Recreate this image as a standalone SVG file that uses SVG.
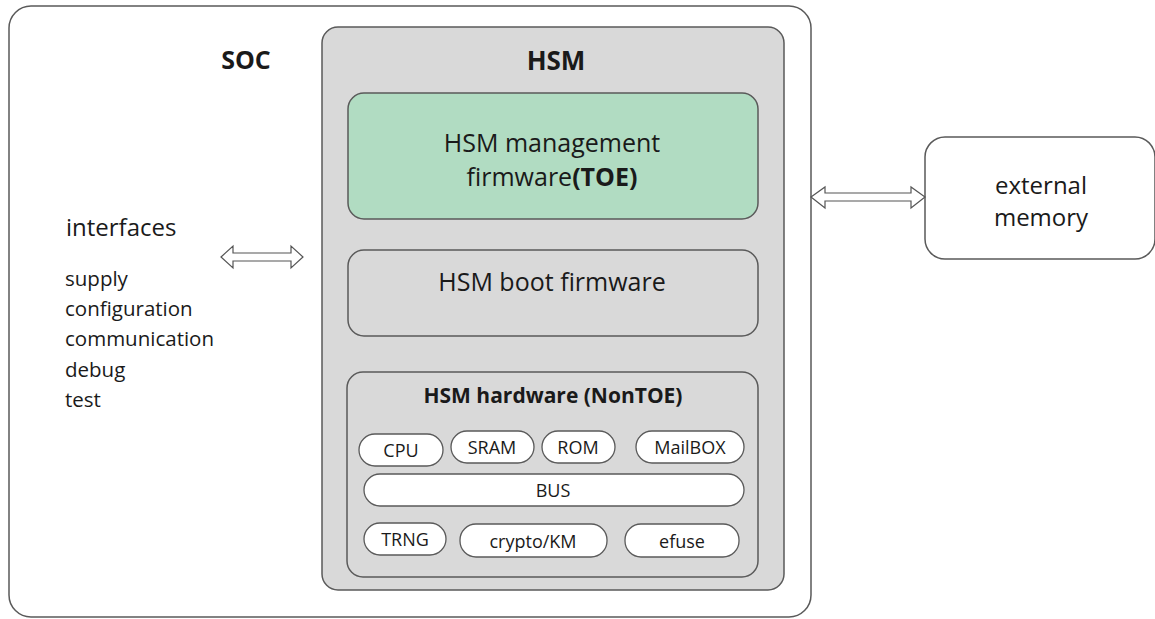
<svg xmlns="http://www.w3.org/2000/svg" width="1155" height="619" viewBox="0 0 1155 619">
<style>
.box{stroke:#5a5a5a;stroke-width:1.5}
.pill{fill:#fff;stroke:#5a5a5a;stroke-width:1.3}
text{font-family:"Open Sans","Noto Sans","Liberation Sans",sans-serif;fill:#1a1a1a}
.b{font-weight:bold}
.p{font-size:18px;text-anchor:middle}
.arrow{fill:#fff;stroke:#555;stroke-width:1.2}
</style>
<rect width="1155" height="619" fill="#fff"/>
<g id="soc">
<rect class="box" x="9" y="6" width="802" height="611" rx="22" fill="#fff"/>
<text class="b" x="246" y="69" font-size="25" text-anchor="middle">SOC</text>
</g>
<g id="interfaces">
<text x="66" y="236" font-size="24">interfaces</text>
<text x="65" y="286" font-size="20.5">supply</text>
<text x="65" y="316" font-size="20.5">configuration</text>
<text x="65" y="346" font-size="20.5">communication</text>
<text x="65" y="377" font-size="20.5">debug</text>
<text x="65" y="407" font-size="20.5">test</text>
</g>
<g id="hsm">
<rect class="box" x="322" y="27" width="462" height="563" rx="16" fill="#d9d9d9"/>
<text class="b" x="556" y="70" font-size="26" text-anchor="middle">HSM</text>
</g>
<g id="mgmt-fw">
<rect class="box" x="348" y="93" width="410" height="126" rx="16" fill="#b1dcc2"/>
<text x="552" y="152" font-size="25" text-anchor="middle">HSM management</text>
<text x="552" y="186" font-size="25" text-anchor="middle">firmware<tspan class="b">(TOE)</tspan></text>
</g>
<g id="boot-fw">
<rect class="box" x="348" y="250" width="410" height="86" rx="16" fill="#d9d9d9"/>
<text x="552" y="291" font-size="25" text-anchor="middle">HSM boot firmware</text>
</g>
<g id="hardware">
<rect class="box" x="347" y="372" width="411" height="205" rx="16" fill="#d9d9d9"/>
<text class="b" x="553" y="403" font-size="21" text-anchor="middle">HSM hardware (NonTOE)</text>
</g>
<g id="cpu"><rect class="pill" x="359" y="434" width="84" height="32" rx="16"/><text class="p" x="401" y="457">CPU</text></g>
<g id="sram"><rect class="pill" x="451" y="431" width="83" height="32" rx="16"/><text class="p" x="492" y="454">SRAM</text></g>
<g id="rom"><rect class="pill" x="542" y="431" width="73" height="32" rx="16"/><text class="p" x="578" y="454">ROM</text></g>
<g id="mailbox"><rect class="pill" x="636" y="431" width="108" height="32" rx="16"/><text class="p" x="690" y="454">MailBOX</text></g>
<g id="bus"><rect class="pill" x="364" y="474" width="380" height="32" rx="16"/><text class="p" x="553" y="497">BUS</text></g>
<g id="trng"><rect class="pill" x="364" y="523" width="82" height="32" rx="16"/><text class="p" x="405" y="546">TRNG</text></g>
<g id="crypto"><rect class="pill" x="460" y="524" width="147" height="33" rx="16"/><text class="p" x="533" y="548">crypto/KM</text></g>
<g id="efuse"><rect class="pill" x="625" y="524" width="114" height="33" rx="16"/><text class="p" x="682" y="548">efuse</text></g>
<g id="external-memory">
<rect class="box" x="925" y="137" width="230" height="122" rx="20" fill="#fff"/>
<text x="1041" y="194" font-size="24" text-anchor="middle">external</text>
<text x="1041" y="226" font-size="24" text-anchor="middle">memory</text>
</g>
<g id="connectors">
<polygon class="arrow" points="221,257 233,246 233,253 291,253 291,246 303,257 291,268 291,261 233,261 233,268"/>
<polygon class="arrow" points="811,197 825,187 825,193 911,193 911,187 925,197 911,208 911,201 825,201 825,208"/>
</g>
</svg>
